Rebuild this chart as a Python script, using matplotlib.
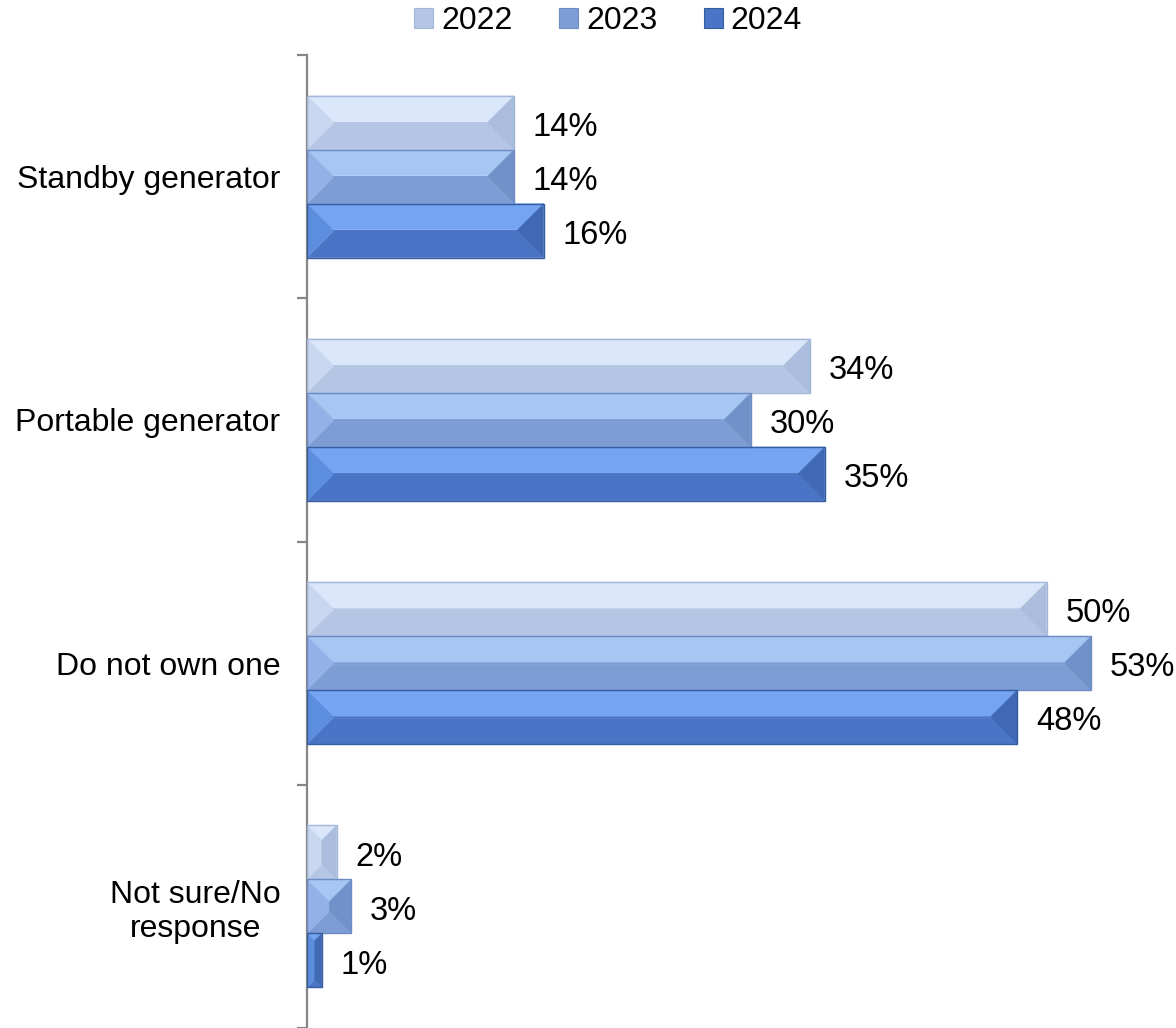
import matplotlib
matplotlib.use("Agg")
import matplotlib.pyplot as plt
from matplotlib.patches import Polygon, Patch
import numpy as np

plt.rcParams['font.family'] = ['Liberation Sans', 'DejaVu Sans']

categories = ["Standby generator", "Portable generator", "Do not own one", "Not sure/No\nresponse"]
years = ["2022", "2023", "2024"]
values = {
    "2022": [14, 34, 50, 2],
    "2023": [14, 30, 53, 3],
    "2024": [16, 35, 48, 1],
}

# bevel shades per series: top, bottom, left, right, edge
shades = {
    "2022": dict(top="#dae6f9", bottom="#b5c6e4", left="#c8d6ef", right="#abbddc", edge="#a3b6d8"),
    "2023": dict(top="#a8c6f4", bottom="#7e9dd5", left="#93b1e6", right="#7192c9", edge="#6d8cc4"),
    "2024": dict(top="#74a4f2", bottom="#4a75c6", left="#5d8ddf", right="#4069b5", edge="#375da1"),
}

W, H = 1176, 1028
fig = plt.figure(figsize=(W / 100, H / 100), dpi=100)
ax_left, ax_right, ax_top, ax_bot = 307, 1165, 55, 1028
ax = fig.add_axes([ax_left / W, 1 - ax_bot / H, (ax_right - ax_left) / W, (ax_bot - ax_top) / H])

xmax = 58
n_cat = len(categories)
ax.set_xlim(0, xmax)
ax.set_ylim(n_cat, 0)

px_x = (ax_right - ax_left) / xmax      # pixels per x unit
px_y = (ax_bot - ax_top) / n_cat        # pixels per y unit

bar_h = 0.222
bevel_px = 26


def bevel_bar(x1, yc, h, c):
    x0 = 0.0
    y0, y1 = yc - h / 2, yc + h / 2
    w_px = (x1 - x0) * px_x
    h_px = h * px_y
    d_px = min(bevel_px, w_px / 2, h_px / 2)
    dx, dy = d_px / px_x, d_px / px_y
    ym_top = y0 + dy
    ym_bot = y1 - min(h_px / 2, d_px) / px_y
    polys = [
        ([(x0 + dx, ym_top), (x1 - dx, ym_top), (x1 - dx, ym_bot), (x0 + dx, ym_bot)], c["bottom"]),
        ([(x0, y0), (x1, y0), (x1 - dx, ym_top), (x0 + dx, ym_top)], c["top"]),
        ([(x0, y1), (x1, y1), (x1 - dx, ym_bot), (x0 + dx, ym_bot)], c["bottom"]),
        ([(x0, y0), (x0 + dx, ym_top), (x0 + dx, ym_bot), (x0, y1)], c["left"]),
        ([(x1, y0), (x1 - dx, ym_top), (x1 - dx, ym_bot), (x1, y1)], c["right"]),
    ]
    for pts, col in polys:
        ax.add_patch(Polygon(pts, closed=True, facecolor=col, edgecolor=col, lw=0.3, zorder=2))
    ax.add_patch(Polygon([(x0, y0), (x1, y0), (x1, y1), (x0, y1)], closed=True,
                         facecolor="none", edgecolor=c["edge"], lw=1.0, zorder=3))


for i, cat in enumerate(categories):
    for j, yr in enumerate(years):
        v = values[yr][i]
        yc = i + 0.5 + (j - 1) * bar_h
        bevel_bar(v, yc, bar_h, shades[yr])
        ax.annotate(f"{v}%", xy=(v, yc), xytext=(13.5, -3.5), textcoords="offset points",
                    ha="left", va="center", fontsize=23.5, color="black")

# axes styling
for s in ["top", "right", "bottom"]:
    ax.spines[s].set_visible(False)
ax.spines["left"].set_color("#868686")
ax.spines["left"].set_linewidth(1.6)
ax.set_xticks([])
ax.set_yticks(np.arange(n_cat + 1))
ax.set_yticklabels([])
ax.tick_params(axis="y", which="major", length=7.5, width=1.6, color="#868686")
ax.set_yticks(np.arange(n_cat) + 0.5, minor=True)
ax.set_yticklabels(categories, minor=True, fontsize=23, multialignment="center")
ax.tick_params(axis="y", which="minor", length=0, pad=19)

handles = [Patch(facecolor=shades[yr]["bottom"], edgecolor=shades[yr]["edge"], lw=0.8) for yr in years]
fig.legend(handles, years, loc="center", bbox_to_anchor=(608 / W, 1 - 21 / H), ncol=3,
           fontsize=23, frameon=False, handlelength=0.6, handleheight=0.6,
           handletextpad=0.25, columnspacing=1.45, borderpad=0)

fig.savefig("out.png", dpi=100)
